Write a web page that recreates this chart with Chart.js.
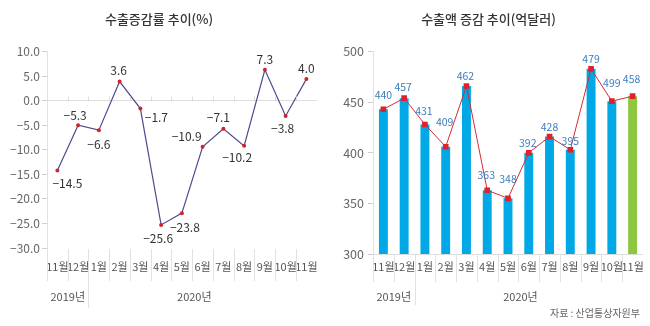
<!DOCTYPE html>
<html><head><meta charset="utf-8">
<script src="https://cdn.jsdelivr.net/npm/chart.js@4"></script>
<style>
html,body{margin:0;padding:0;background:#fff;width:650px;height:326px;overflow:hidden;}
#c1{position:absolute;left:0;top:0;}
#c2{position:absolute;left:333px;top:0;}
</style></head><body>
<canvas id="c1" width="330" height="326"></canvas>
<canvas id="c2" width="317" height="326"></canvas>
<script>
// ---- data ----
const months = ['11월','12월','1월','2월','3월','4월','5월','6월','7월','8월','9월','10월','11월'];
const years = ['2019년','2020년'];
const rateTitle = '수출증감률 추이(%)';
const exportTitle = '수출액 증감 추이(억달러)';
const sourceText = '자료 : 산업통상자원부';
// plotted positions of the markers as drawn in the picture
const rateValues = [-14.2, -5.0, -6.0, 3.9, -1.6, -25.3, -22.9, -9.4, -5.7, -9.2, 6.3, -3.1, 4.4];
// value labels as printed in the picture
const rateLabels = ['−14.5','−5.3','−6.6','3.6','−1.7','−25.6','−23.8','−10.9','−7.1','−10.2','7.3','−3.8','4.0'];
const rateTicks = {min: -30, max: 10, step: 5};
const exportValues = [443, 454, 428, 406, 466, 363, 355, 400, 416, 403, 483, 451, 456];
const exportLabels = ['440','457','431','409','462','363','348','392','428','395','479','499','458'];
const exportTicks = {min: 300, max: 500, step: 50};

// ---- styling (label placement offsets, not data) ----
const rateLabelOffsets = [[10,13],[-3,-10],[0,14],[-1,-11],[16,9],[-3,14],[3,14],[-16,-10],[-5,-11],[-7,12],[0,-10],[-3,13],[0,-11]];
const exportLabelOffsets = [[0,-14],[-1,-11],[-1,-13],[-1,-25],[-1,-10],[-1,-15],[0,-19],[-1,-10],[0,-10],[0,-9],[0,-10],[0,-18],[-1,-17]];

const FONT = "'Noto Sans CJK KR','Noto Sans',sans-serif";
Chart.defaults.font.family = FONT;
Chart.defaults.color = '#555';

function minusFmt(v){ return (v < 0 ? '−' : '') + Math.abs(v).toFixed(1); }

function decorPlugin(opts){
  return {
    id: 'decor',
    afterDraw(chart){
      const ctx = chart.ctx, xs = chart.scales.x, ys = chart.scales.y, area = chart.chartArea;
      const n = months.length, w = xs.width / n;
      ctx.save();
      ctx.strokeStyle = '#e2e2e2'; ctx.lineWidth = 1;
      for (let i = 0; i < n; i++) {
        const x = Math.round(xs.left + i * w) + 0.5;
        const bottom = (i === 2) ? opts.yearSepBottom : opts.sepBottom;
        ctx.beginPath(); ctx.moveTo(x, area.bottom + (i === 0 ? 0 : 1)); ctx.lineTo(x, bottom); ctx.stroke();
      }
      if (opts.zeroTicks) {
        const y0 = Math.round(ys.getPixelForValue(0)) + 0.5;
        ctx.strokeStyle = '#dcdcdc';
        for (let i = 1; i < n; i++) {
          const x = Math.round(xs.left + i * w) + 0.5;
          ctx.beginPath(); ctx.moveTo(x, y0 - 5); ctx.lineTo(x, y0); ctx.stroke();
        }
      }
      // years
      ctx.fillStyle = '#555'; ctx.font = '11px ' + FONT; ctx.textAlign = 'center'; ctx.textBaseline = 'middle';
      ctx.fillText(years[0], xs.left + w, opts.yearY);
      ctx.fillText(years[1], xs.getPixelForValue(6.6), opts.yearY);
      // value labels
      const meta = chart.getDatasetMeta(opts.labelDataset);
      ctx.fillStyle = opts.labelColor; ctx.font = opts.labelFont;
      meta.data.forEach((pt, i) => {
        const off = opts.offsets[i];
        ctx.fillText(opts.labels[i], xs.getPixelForValue(i) + off[0], pt.y + off[1]);
      });
      if (opts.source) {
        ctx.fillStyle = '#666'; ctx.font = '10px ' + FONT; ctx.textAlign = 'right';
        ctx.fillText(opts.source, opts.sourceX, opts.sourceY);
      }
      ctx.restore();
    }
  };
}

new Chart(document.getElementById('c1'), {
  type: 'line',
  data: { labels: months, datasets: [{
    data: rateValues, borderColor: '#4c4b8e', borderWidth: 1.2, tension: 0,
    pointRadius: 2, pointBackgroundColor: '#d0242a', pointBorderColor: '#d0242a', pointBorderWidth: 0
  }]},
  options: {
    responsive: false, animation: false, devicePixelRatio: 1,
    layout: { padding: { left: 0, right: 12, top: 0, bottom: 0 } },
    plugins: {
      legend: { display: false }, tooltip: { enabled: false },
      title: { display: true, text: rateTitle, color: '#333', font: { size: 13, weight: '500', family: FONT }, padding: { top: 11, bottom: 25 } }
    },
    scales: {
      x: {
        offset: true,
        grid: { display: false, drawTicks: false }, border: { display: false },
        ticks: { autoSkip: false, maxRotation: 0, minRotation: 0, padding: 12, color: '#555', font: { size: 11 } },
        afterFit: s => { s.height = 78; }
      },
      y: {
        min: rateTicks.min, max: rateTicks.max,
        ticks: { stepSize: rateTicks.step, callback: v => minusFmt(v), padding: 2, color: '#666', font: { size: 12 } },
        grid: { drawOnChartArea: true, color: c => (c.tick && c.tick.value === 0) ? '#dedede' : 'rgba(0,0,0,0)', tickColor: '#cfcfcf', tickLength: 5 },
        border: { display: true, color: '#e2e2e2' },
        afterFit: s => { s.width = 47; }
      }
    }
  },
  plugins: [decorPlugin({ sepBottom: 281, yearSepBottom: 308, zeroTicks: true, yearY: 297, labelDataset: 0,
    labels: rateLabels, offsets: rateLabelOffsets, labelColor: '#333', labelFont: '12px ' + FONT })]
});

new Chart(document.getElementById('c2'), {
  type: 'bar',
  data: { labels: months, datasets: [
    { type: 'line', data: exportValues, borderColor: '#d42b33', borderWidth: 1, tension: 0, order: 0,
      pointStyle: 'rect', pointRadius: 4, pointBackgroundColor: '#e0202a', pointBorderColor: '#e0202a', pointBorderWidth: 0 },
    { type: 'bar', data: exportValues, order: 1, barPercentage: 0.43, categoryPercentage: 1,
      backgroundColor: exportValues.map((v, i) => i === exportValues.length - 1 ? '#8dc63f' : '#00a9e6') }
  ]},
  options: {
    responsive: false, animation: false, devicePixelRatio: 1,
    layout: { padding: { left: 0, right: 6, top: 0, bottom: 0 } },
    plugins: {
      legend: { display: false }, tooltip: { enabled: false },
      title: { display: true, text: exportTitle, color: '#333', font: { size: 13, weight: '500', family: FONT }, padding: { top: 11, bottom: 25 } }
    },
    scales: {
      x: {
        grid: { display: false, drawTicks: false }, border: { display: true, color: '#dddddd' },
        ticks: { autoSkip: false, maxRotation: 0, minRotation: 0, padding: 6, color: '#555', font: { size: 11 } },
        afterFit: s => { s.height = 72; }
      },
      y: {
        min: exportTicks.min, max: exportTicks.max,
        ticks: { stepSize: exportTicks.step, padding: 4, color: '#666', font: { size: 12.5 } },
        grid: { drawOnChartArea: false, tickColor: '#cfcfcf', tickLength: 5 },
        border: { display: true, color: '#e2e2e2' },
        afterFit: s => { s.width = 40; }
      }
    }
  },
  plugins: [decorPlugin({ sepBottom: 282, yearSepBottom: 305, zeroTicks: false, yearY: 297, labelDataset: 0,
    labels: exportLabels, offsets: exportLabelOffsets, labelColor: '#3b7dbd', labelFont: '10.5px ' + FONT,
    source: sourceText, sourceX: 307, sourceY: 313 })]
});
</script>
</body></html>
